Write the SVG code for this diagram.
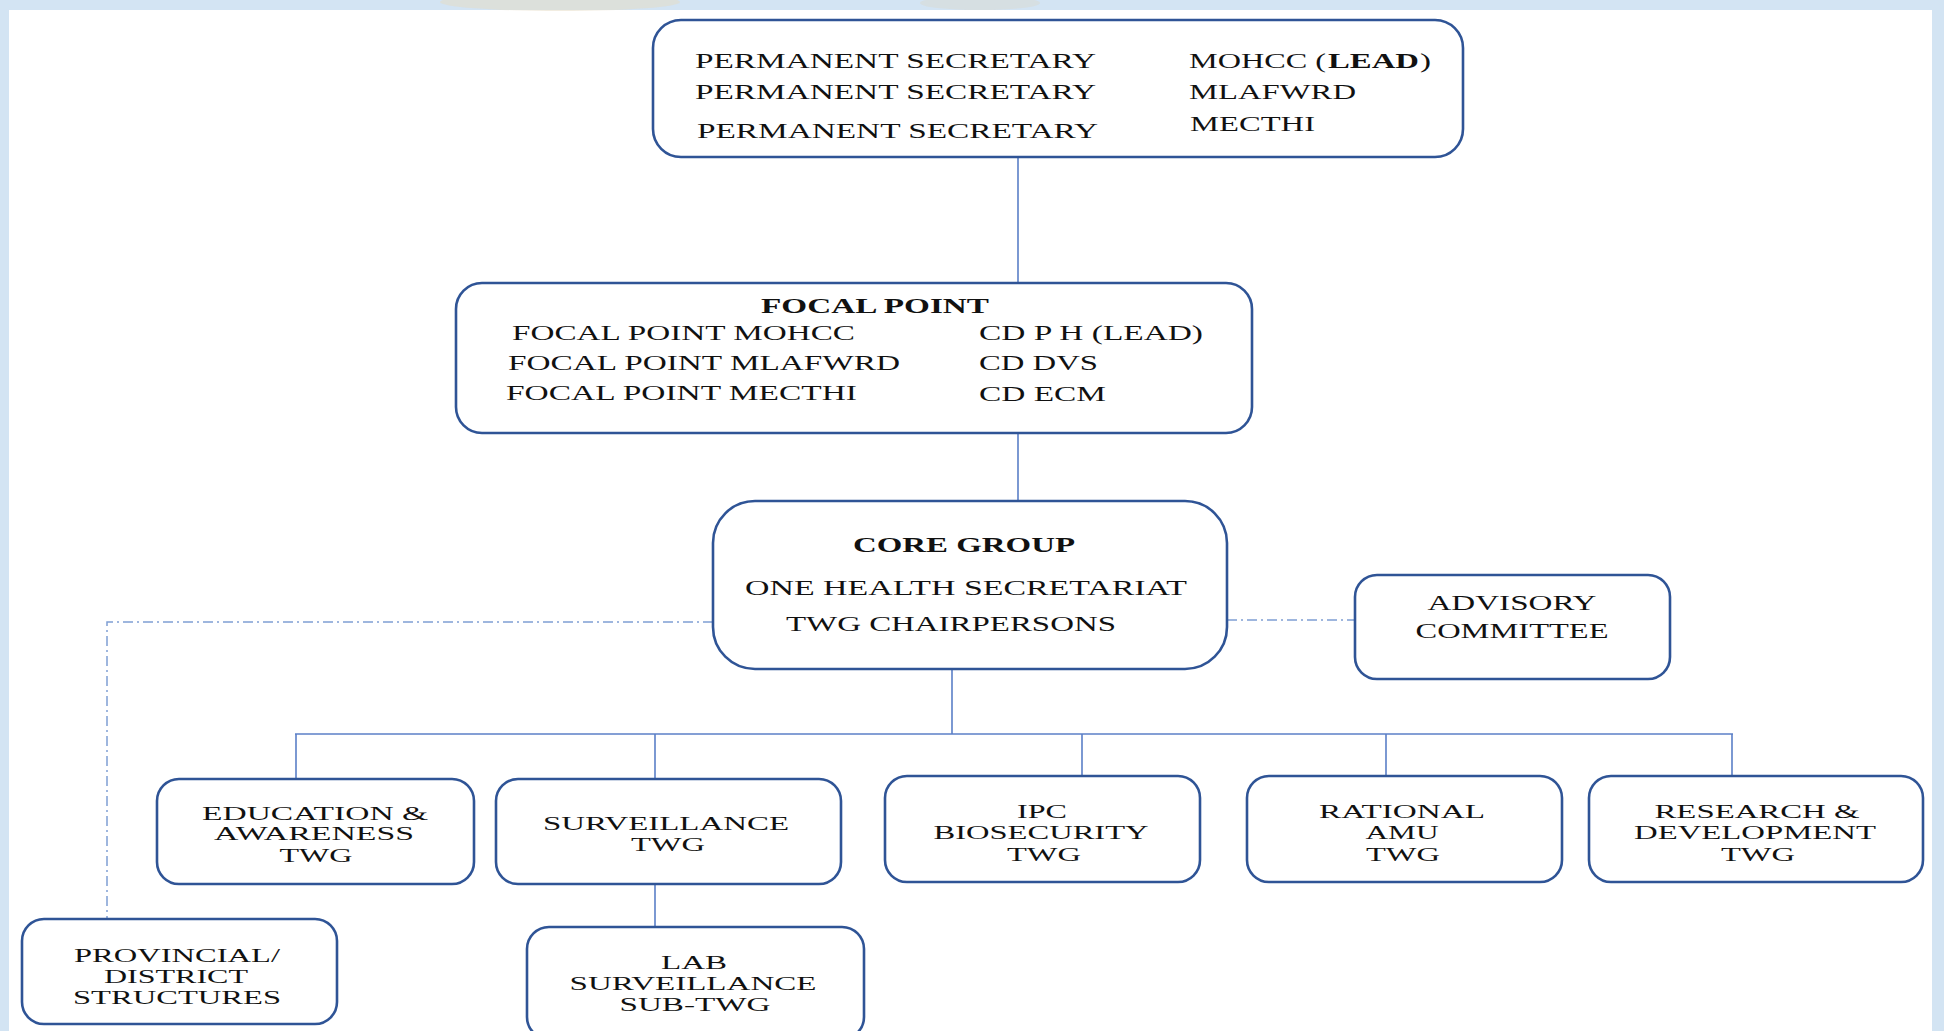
<svg xmlns="http://www.w3.org/2000/svg" width="1944" height="1031" viewBox="0 0 1944 1031">
<style>
.bx{fill:#ffffff;stroke:#2f5496;stroke-width:2.6}
.ln{fill:none;stroke:#5b7fc7;stroke-width:1.6}
.dd{fill:none;stroke:#7f9fd4;stroke-width:1.5;stroke-dasharray:10 4 2 4}
text{font-family:"Liberation Serif","Times New Roman",serif;font-size:21px;fill:#111111}
.c{text-anchor:middle}
.s{font-size:19.5px}
.b{font-weight:bold}
</style>
<rect x="0" y="0" width="1944" height="1031" fill="#ffffff"/>
<rect x="0" y="0" width="1944" height="10" fill="#d3e4f3"/>
<rect x="0" y="0" width="9" height="1031" fill="#d3e4f3"/>
<rect x="1932" y="0" width="12" height="1031" fill="#d3e4f3"/>
<ellipse cx="560" cy="2" rx="120" ry="9" fill="#e6dcc4" opacity="0.5"/>
<ellipse cx="980" cy="3" rx="60" ry="7" fill="#dcd6c8" opacity="0.4"/>

<g id="connectors">
<line class="ln" x1="1018" y1="157" x2="1018" y2="283"/>
<line class="ln" x1="1018" y1="433" x2="1018" y2="501"/>
<line class="ln" x1="952" y1="669" x2="952" y2="734"/>
<line class="ln" x1="295" y1="734" x2="1733" y2="734"/>
<line class="ln" x1="296" y1="734" x2="296" y2="779"/>
<line class="ln" x1="655" y1="734" x2="655" y2="779"/>
<line class="ln" x1="1082" y1="734" x2="1082" y2="776"/>
<line class="ln" x1="1386" y1="734" x2="1386" y2="776"/>
<line class="ln" x1="1732" y1="734" x2="1732" y2="776"/>
<line class="ln" x1="655" y1="884" x2="655" y2="927"/>
<polyline class="dd" points="713,622 107,622 107,918"/>
<line class="dd" x1="1227" y1="620" x2="1355" y2="620"/>
</g>

<g id="permanent-secretary">
<rect class="bx" x="653" y="20" width="810" height="137" rx="28"/>
<text x="695" y="68" textLength="401" lengthAdjust="spacingAndGlyphs">PERMANENT SECRETARY</text>
<text x="695" y="99" textLength="401" lengthAdjust="spacingAndGlyphs">PERMANENT SECRETARY</text>
<text x="697" y="138" textLength="401" lengthAdjust="spacingAndGlyphs">PERMANENT SECRETARY</text>
<text x="1189" y="68" textLength="137" lengthAdjust="spacingAndGlyphs">MOHCC (</text>
<text class="b" x="1328" y="68" textLength="91" lengthAdjust="spacingAndGlyphs">LEAD</text>
<text x="1420" y="68" textLength="11" lengthAdjust="spacingAndGlyphs">)</text>
<text x="1189" y="99" textLength="167" lengthAdjust="spacingAndGlyphs">MLAFWRD</text>
<text x="1190" y="131" textLength="125" lengthAdjust="spacingAndGlyphs">MECTHI</text>
</g>

<g id="focal-point">
<rect class="bx" x="456" y="283" width="796" height="150" rx="26"/>
<text class="b" x="761" y="313" textLength="228" lengthAdjust="spacingAndGlyphs">FOCAL POINT</text>
<text x="512" y="340" textLength="343" lengthAdjust="spacingAndGlyphs">FOCAL POINT MOHCC</text>
<text x="508" y="370" textLength="392" lengthAdjust="spacingAndGlyphs">FOCAL POINT MLAFWRD</text>
<text x="506" y="400" textLength="351" lengthAdjust="spacingAndGlyphs">FOCAL POINT MECTHI</text>
<text x="979" y="340" textLength="224" lengthAdjust="spacingAndGlyphs">CD P H (LEAD)</text>
<text x="979" y="370" textLength="119" lengthAdjust="spacingAndGlyphs">CD DVS</text>
<text x="979" y="401" textLength="127" lengthAdjust="spacingAndGlyphs">CD ECM</text>
</g>

<g id="core-group">
<rect class="bx" x="713" y="501" width="514" height="168" rx="42"/>
<text class="b" x="853" y="552" textLength="222" lengthAdjust="spacingAndGlyphs">CORE GROUP</text>
<text x="745" y="595" textLength="442" lengthAdjust="spacingAndGlyphs">ONE HEALTH SECRETARIAT</text>
<text x="786" y="631" textLength="330" lengthAdjust="spacingAndGlyphs">TWG CHAIRPERSONS</text>
</g>

<g id="advisory-committee">
<rect class="bx" x="1355" y="575" width="315" height="104" rx="22"/>
<text class="c" x="1512" y="610" textLength="169" lengthAdjust="spacingAndGlyphs">ADVISORY</text>
<text class="c" x="1512" y="638" textLength="193" lengthAdjust="spacingAndGlyphs">COMMITTEE</text>
</g>

<g id="education-twg">
<rect class="bx" x="157" y="779" width="317" height="105" rx="22"/>
<text class="c s" x="315" y="820" textLength="226" lengthAdjust="spacingAndGlyphs">EDUCATION &amp;</text>
<text class="c s" x="314" y="840" textLength="200" lengthAdjust="spacingAndGlyphs">AWARENESS</text>
<text class="c s" x="316" y="862" textLength="73" lengthAdjust="spacingAndGlyphs">TWG</text>
</g>

<g id="surveillance-twg">
<rect class="bx" x="496" y="779" width="345" height="105" rx="22"/>
<text class="c s" x="666" y="830" textLength="246" lengthAdjust="spacingAndGlyphs">SURVEILLANCE</text>
<text class="c s" x="668" y="851" textLength="74" lengthAdjust="spacingAndGlyphs">TWG</text>
</g>

<g id="ipc-biosecurity-twg">
<rect class="bx" x="885" y="776" width="315" height="106" rx="22"/>
<text class="c s" x="1042" y="818" textLength="50" lengthAdjust="spacingAndGlyphs">IPC</text>
<text class="c s" x="1041" y="839" textLength="215" lengthAdjust="spacingAndGlyphs">BIOSECURITY</text>
<text class="c s" x="1044" y="861" textLength="74" lengthAdjust="spacingAndGlyphs">TWG</text>
</g>

<g id="rational-amu-twg">
<rect class="bx" x="1247" y="776" width="315" height="106" rx="22"/>
<text class="c s" x="1402" y="818" textLength="166" lengthAdjust="spacingAndGlyphs">RATIONAL</text>
<text class="c s" x="1402" y="839" textLength="73" lengthAdjust="spacingAndGlyphs">AMU</text>
<text class="c s" x="1403" y="861" textLength="74" lengthAdjust="spacingAndGlyphs">TWG</text>
</g>

<g id="research-development-twg">
<rect class="bx" x="1589" y="776" width="334" height="106" rx="22"/>
<text class="c s" x="1757" y="818" textLength="205" lengthAdjust="spacingAndGlyphs">RESEARCH &amp;</text>
<text class="c s" x="1755" y="839" textLength="242" lengthAdjust="spacingAndGlyphs">DEVELOPMENT</text>
<text class="c s" x="1758" y="861" textLength="74" lengthAdjust="spacingAndGlyphs">TWG</text>
</g>

<g id="provincial-district-structures">
<rect class="bx" x="22" y="919" width="315" height="105" rx="22"/>
<text class="c s" x="177" y="962" textLength="206" lengthAdjust="spacingAndGlyphs">PROVINCIAL/</text>
<text class="c s" x="176" y="983" textLength="144" lengthAdjust="spacingAndGlyphs">DISTRICT</text>
<text class="c s" x="177" y="1004" textLength="208" lengthAdjust="spacingAndGlyphs">STRUCTURES</text>
</g>

<g id="lab-surveillance-sub-twg">
<rect class="bx" x="527" y="927" width="337" height="112" rx="22"/>
<text class="c s" x="694" y="969" textLength="66" lengthAdjust="spacingAndGlyphs">LAB</text>
<text class="c s" x="693" y="990" textLength="247" lengthAdjust="spacingAndGlyphs">SURVEILLANCE</text>
<text class="c s" x="695" y="1011" textLength="151" lengthAdjust="spacingAndGlyphs">SUB-TWG</text>
</g>
</svg>
